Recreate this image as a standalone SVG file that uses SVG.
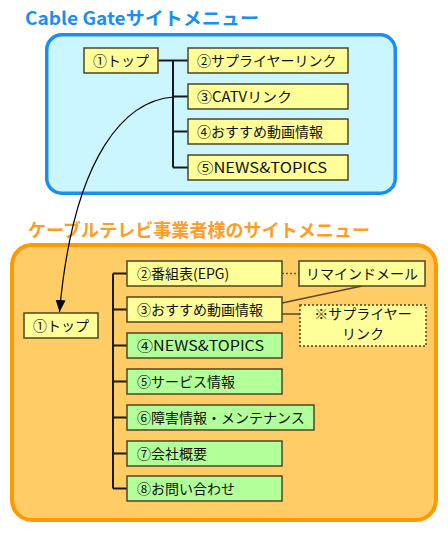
<svg xmlns="http://www.w3.org/2000/svg" width="448" height="539" viewBox="0 0 448 539">
<defs>
<style>
.ttl{font-family:"Noto Sans CJK JP","Liberation Sans",sans-serif;font-weight:bold;font-size:18px}
.t{font-family:"Noto Sans CJK JP","Liberation Sans",sans-serif;font-size:14px;fill:#111}
.y{fill:#ffff99;stroke:#4d4526;stroke-width:1.5}
.g{fill:#b3ff99;stroke:#4d4526;stroke-width:1.5}
.tree{fill:none;stroke:#1a1a1a;stroke-width:2}
.thin{fill:none;stroke:#5a4a26;stroke-width:1.5}
</style>
<marker id="ah" viewBox="0 0 12 10" refX="12" refY="5" markerWidth="12" markerHeight="10" markerUnits="userSpaceOnUse" orient="auto">
<path d="M0,0 L12,5 L0,10 z" fill="#000"/>
</marker>
</defs>
<rect width="448" height="539" fill="#fff"/>

<g id="cablegate">
<text class="ttl" x="25" y="25" fill="#1a8ff0" textLength="234" lengthAdjust="spacingAndGlyphs">Cable Gateサイトメニュー</text>
<rect x="46.75" y="34.75" width="348.5" height="158.5" rx="15" fill="#ccf6ff" stroke="#1a8ff0" stroke-width="3.5"/>
</g>

<g id="catv">
<text class="ttl" x="28" y="237" fill="#ff9c26" textLength="342" lengthAdjust="spacingAndGlyphs">ケーブルテレビ事業者様のサイトメニュー</text>
<rect x="12" y="245" width="424" height="275" rx="20" fill="#ffcc66" stroke="#ff9900" stroke-width="4"/>
</g>

<g id="connectors">
<path class="tree" d="M158,60.5 H188 M173,60.5 V167.5 M173,96.5 H188 M173,131.5 H188 M173,167.5 H188"/>
<path class="tree" d="M113,273.5 V488.5 M113,273.5 H127 M113,309.5 H127 M113,345.5 H127 M113,381.5 H127 M113,417.5 H127 M113,453.5 H127 M113,488.5 H127"/>
<path d="M282,273.5 H299" fill="none" stroke="#7a5a26" stroke-width="1.5" stroke-dasharray="2,2"/>
<path class="thin" d="M282,303 L362,286 M282,314 H300"/>
<path d="M174,97 C128,100 74,150 59.5,312" fill="none" stroke="#000" stroke-width="1.2" marker-end="url(#ah)"/>
</g>

<g id="cg-top"><rect class="y" x="84" y="48" width="74" height="25"/><text class="t" x="93" y="66">①トップ</text></g>
<g id="cg-supplier"><rect class="y" x="188" y="48" width="160" height="25"/><text class="t" x="197" y="66">②サプライヤーリンク</text></g>
<g id="cg-catv"><rect class="y" x="188" y="84" width="160" height="25"/><text class="t" x="197" y="102" textLength="95" lengthAdjust="spacingAndGlyphs">③CATVリンク</text></g>
<g id="cg-video"><rect class="y" x="188" y="119" width="160" height="25"/><text class="t" x="197" y="137">④おすすめ動画情報</text></g>
<g id="cg-news"><rect class="y" x="188" y="155" width="160" height="25"/><text class="t" x="197" y="173" textLength="130" lengthAdjust="spacingAndGlyphs">⑤NEWS&amp;TOPICS</text></g>

<g id="tv-top"><rect class="y" x="24" y="313" width="74" height="25"/><text class="t" x="33" y="331">①トップ</text></g>
<g id="tv-epg"><rect class="y" x="127" y="261" width="155" height="25"/><text class="t" x="137" y="279">②番組表(EPG)</text></g>
<g id="tv-video"><rect class="y" x="127" y="297" width="155" height="25"/><text class="t" x="137" y="315">③おすすめ動画情報</text></g>
<g id="tv-news"><rect class="g" x="127" y="333" width="155" height="25"/><text class="t" x="137" y="351" textLength="127" lengthAdjust="spacingAndGlyphs">④NEWS&amp;TOPICS</text></g>
<g id="tv-service"><rect class="g" x="127" y="369" width="155" height="25"/><text class="t" x="137" y="387">⑤サービス情報</text></g>
<g id="tv-maint"><rect class="g" x="127" y="405" width="187" height="25"/><text class="t" x="137" y="423">⑥障害情報・メンテナンス</text></g>
<g id="tv-company"><rect class="g" x="127" y="441" width="155" height="25"/><text class="t" x="137" y="459">⑦会社概要</text></g>
<g id="tv-contact"><rect class="g" x="127" y="476" width="155" height="25"/><text class="t" x="137" y="494">⑧お問い合わせ</text></g>
<g id="tv-remind"><rect class="y" x="299" y="261" width="126" height="25"/><text class="t" x="362" y="279" text-anchor="middle">リマインドメール</text></g>
<g id="tv-supplier"><rect x="300" y="305" width="126" height="41" fill="#ffff99" stroke="#4d4526" stroke-width="1.5" stroke-dasharray="2,2"/><text class="t" x="363" y="319" text-anchor="middle" font-size="13">※サプライヤー</text><text class="t" x="363" y="338.5" text-anchor="middle" font-size="13">リンク</text></g>
</svg>
